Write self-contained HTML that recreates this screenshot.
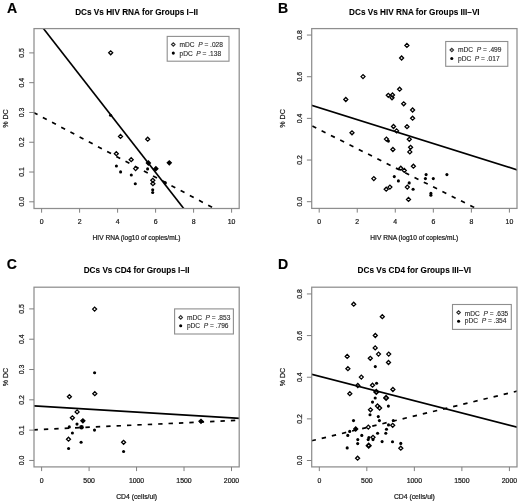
<!DOCTYPE html>
<html><head><meta charset="utf-8"><style>
html,body{margin:0;padding:0;background:#fff;width:520px;height:502px;overflow:hidden}
svg{display:block;will-change:transform}
text{font-family:"Liberation Sans", sans-serif;white-space:pre}
</style></head><body>
<svg width="520" height="502" viewBox="0 0 520 502">
<rect width="520" height="502" fill="#fff"/>
<text x="0" y="0" font-size="14.1" text-anchor="start" font-weight="bold" fill="#000" stroke="#000" stroke-width="0.15" transform="translate(6.9 12.8) scale(1 1.06)">A</text>
<text x="0" y="0" font-size="8.22" text-anchor="middle" font-weight="bold" fill="#000" stroke="#000" stroke-width="0.08" transform="translate(136.6 14.5) scale(1 1.04)">DCs Vs HIV RNA for Groups I–II</text>
<clipPath id="cA"><rect x="34.0" y="28.6" width="205.2" height="179.9"/></clipPath>
<g clip-path="url(#cA)">
<line x1="20" y1="-1.5494500000000073" x2="250" y2="293.54054999999994" stroke="#000" stroke-width="1.65"/>
<line x1="33.9" y1="112.6469" x2="250" y2="227.39600000000002" stroke="#000" stroke-width="1.7" stroke-dasharray="4.4 6.0" stroke-dashoffset="0.27"/>
<path d="M108.70 52.80L110.70 50.80L112.70 52.80L110.70 54.80Z" fill="none" stroke="#000" stroke-width="1.3"/>
<path d="M118.50 136.40L120.50 134.40L122.50 136.40L120.50 138.40Z" fill="none" stroke="#000" stroke-width="1.3"/>
<path d="M145.70 139.20L147.70 137.20L149.70 139.20L147.70 141.20Z" fill="none" stroke="#000" stroke-width="1.3"/>
<path d="M114.30 153.70L116.30 151.70L118.30 153.70L116.30 155.70Z" fill="none" stroke="#000" stroke-width="1.3"/>
<path d="M129.20 159.70L131.20 157.70L133.20 159.70L131.20 161.70Z" fill="none" stroke="#000" stroke-width="1.3"/>
<path d="M133.60 168.60L135.60 166.60L137.60 168.60L135.60 170.60Z" fill="none" stroke="#000" stroke-width="1.3"/>
<path d="M150.80 180.30L152.80 178.30L154.80 180.30L152.80 182.30Z" fill="none" stroke="#000" stroke-width="1.3"/>
<path d="M150.90 183.70L152.90 181.70L154.90 183.70L152.90 185.70Z" fill="none" stroke="#000" stroke-width="1.3"/>
<path d="M146.40 163.00L148.40 161.00L150.40 163.00L148.40 165.00Z" fill="none" stroke="#000" stroke-width="1.3"/>
<path d="M153.90 168.70L155.90 166.70L157.90 168.70L155.90 170.70Z" fill="none" stroke="#000" stroke-width="1.3"/>
<path d="M167.30 162.80L169.30 160.80L171.30 162.80L169.30 164.80Z" fill="none" stroke="#000" stroke-width="1.3"/>
<circle cx="110.6" cy="115.3" r="1.55" fill="#000"/>
<circle cx="116.4" cy="166.0" r="1.55" fill="#000"/>
<circle cx="120.6" cy="171.9" r="1.55" fill="#000"/>
<circle cx="131.3" cy="175.0" r="1.55" fill="#000"/>
<circle cx="135.3" cy="183.7" r="1.55" fill="#000"/>
<circle cx="147.6" cy="168.9" r="1.55" fill="#000"/>
<circle cx="152.7" cy="189.7" r="1.55" fill="#000"/>
<circle cx="152.7" cy="192.5" r="1.55" fill="#000"/>
<circle cx="165.3" cy="182.9" r="1.55" fill="#000"/>
<circle cx="148.4" cy="163.0" r="1.55" fill="#000"/>
<circle cx="155.9" cy="168.7" r="1.55" fill="#000"/>
<circle cx="169.3" cy="162.8" r="1.55" fill="#000"/>
</g>
<rect x="34.0" y="28.6" width="205.20" height="179.90" fill="none" stroke="#8e8e8e" stroke-width="1.25"/>
<line x1="41.6" y1="208.5" x2="41.6" y2="212.70" stroke="#808080" stroke-width="1.0"/>
<text x="41.6" y="224.0" font-size="6.9" text-anchor="middle" font-weight="normal" fill="#1a1a1a" stroke="#1a1a1a" stroke-width="0.22">0</text>
<line x1="79.6" y1="208.5" x2="79.6" y2="212.70" stroke="#808080" stroke-width="1.0"/>
<text x="79.6" y="224.0" font-size="6.9" text-anchor="middle" font-weight="normal" fill="#1a1a1a" stroke="#1a1a1a" stroke-width="0.22">2</text>
<line x1="117.6" y1="208.5" x2="117.6" y2="212.70" stroke="#808080" stroke-width="1.0"/>
<text x="117.6" y="224.0" font-size="6.9" text-anchor="middle" font-weight="normal" fill="#1a1a1a" stroke="#1a1a1a" stroke-width="0.22">4</text>
<line x1="155.6" y1="208.5" x2="155.6" y2="212.70" stroke="#808080" stroke-width="1.0"/>
<text x="155.6" y="224.0" font-size="6.9" text-anchor="middle" font-weight="normal" fill="#1a1a1a" stroke="#1a1a1a" stroke-width="0.22">6</text>
<line x1="193.6" y1="208.5" x2="193.6" y2="212.70" stroke="#808080" stroke-width="1.0"/>
<text x="193.6" y="224.0" font-size="6.9" text-anchor="middle" font-weight="normal" fill="#1a1a1a" stroke="#1a1a1a" stroke-width="0.22">8</text>
<line x1="231.6" y1="208.5" x2="231.6" y2="212.70" stroke="#808080" stroke-width="1.0"/>
<text x="231.6" y="224.0" font-size="6.9" text-anchor="middle" font-weight="normal" fill="#1a1a1a" stroke="#1a1a1a" stroke-width="0.22">10</text>
<line x1="29.20" y1="201.8" x2="34.0" y2="201.8" stroke="#808080" stroke-width="1.0"/>
<text x="23.9" y="201.8" font-size="6.9" text-anchor="middle" font-weight="normal" fill="#1a1a1a" stroke="#1a1a1a" stroke-width="0.22" transform="rotate(-90 23.9 201.8)">0.0</text>
<line x1="29.20" y1="172.02" x2="34.0" y2="172.02" stroke="#808080" stroke-width="1.0"/>
<text x="23.9" y="172.02" font-size="6.9" text-anchor="middle" font-weight="normal" fill="#1a1a1a" stroke="#1a1a1a" stroke-width="0.22" transform="rotate(-90 23.9 172.02)">0.1</text>
<line x1="29.20" y1="142.24" x2="34.0" y2="142.24" stroke="#808080" stroke-width="1.0"/>
<text x="23.9" y="142.24" font-size="6.9" text-anchor="middle" font-weight="normal" fill="#1a1a1a" stroke="#1a1a1a" stroke-width="0.22" transform="rotate(-90 23.9 142.24)">0.2</text>
<line x1="29.20" y1="112.46" x2="34.0" y2="112.46" stroke="#808080" stroke-width="1.0"/>
<text x="23.9" y="112.46" font-size="6.9" text-anchor="middle" font-weight="normal" fill="#1a1a1a" stroke="#1a1a1a" stroke-width="0.22" transform="rotate(-90 23.9 112.46)">0.3</text>
<line x1="29.20" y1="82.68" x2="34.0" y2="82.68" stroke="#808080" stroke-width="1.0"/>
<text x="23.9" y="82.68" font-size="6.9" text-anchor="middle" font-weight="normal" fill="#1a1a1a" stroke="#1a1a1a" stroke-width="0.22" transform="rotate(-90 23.9 82.68)">0.4</text>
<line x1="29.20" y1="52.9" x2="34.0" y2="52.9" stroke="#808080" stroke-width="1.0"/>
<text x="23.9" y="52.9" font-size="6.9" text-anchor="middle" font-weight="normal" fill="#1a1a1a" stroke="#1a1a1a" stroke-width="0.22" transform="rotate(-90 23.9 52.9)">0.5</text>
<text x="136.6" y="240.2" font-size="6.6" text-anchor="middle" font-weight="normal" fill="#1a1a1a" stroke="#1a1a1a" stroke-width="0.22">HIV RNA (log10 of copies/mL)</text>
<text x="7.6" y="118.55" font-size="7.1" text-anchor="middle" font-weight="normal" fill="#1a1a1a" stroke="#1a1a1a" stroke-width="0.22" transform="rotate(-90 7.6 118.55)">% DC</text>
<rect x="167.2" y="36.4" width="61.80000000000001" height="24.800000000000004" fill="#fff" stroke="#8e8e8e" stroke-width="1.1"/>
<path d="M171.55 44.50L173.30 42.75L175.05 44.50L173.30 46.25Z" fill="none" stroke="#333" stroke-width="1.15"/>
<circle cx="173.29999999999998" cy="53.099999999999994" r="1.55" fill="#000"/>
<text x="179.5" y="47.40" font-size="6.6" fill="#2a2a2a" stroke="#2a2a2a" stroke-width="0.12">mDC  <tspan font-style="italic">P</tspan> = .028</text>
<text x="179.5" y="55.50" font-size="6.6" fill="#2a2a2a" stroke="#2a2a2a" stroke-width="0.12">pDC  <tspan font-style="italic">P</tspan> = .138</text>
<text x="0" y="0" font-size="14.1" text-anchor="start" font-weight="bold" fill="#000" stroke="#000" stroke-width="0.15" transform="translate(278.0 12.7) scale(1 1.06)">B</text>
<text x="0" y="0" font-size="8.22" text-anchor="middle" font-weight="bold" fill="#000" stroke="#000" stroke-width="0.08" transform="translate(414.35 14.5) scale(1 1.04)">DCs Vs HIV RNA for Groups III–VI</text>
<clipPath id="cB"><rect x="311.7" y="28.6" width="205.3" height="179.8"/></clipPath>
<g clip-path="url(#cB)">
<line x1="300" y1="101.56432000000001" x2="530" y2="173.87632000000002" stroke="#000" stroke-width="1.65"/>
<line x1="311.7" y1="125.7485" x2="530" y2="235.5534" stroke="#000" stroke-width="1.7" stroke-dasharray="4.4 6.0" stroke-dashoffset="-0.69"/>
<path d="M404.90 45.40L406.90 43.40L408.90 45.40L406.90 47.40Z" fill="none" stroke="#000" stroke-width="1.3"/>
<path d="M399.60 58.00L401.60 56.00L403.60 58.00L401.60 60.00Z" fill="none" stroke="#000" stroke-width="1.3"/>
<path d="M361.00 76.60L363.00 74.60L365.00 76.60L363.00 78.60Z" fill="none" stroke="#000" stroke-width="1.3"/>
<path d="M397.60 89.20L399.60 87.20L401.60 89.20L399.60 91.20Z" fill="none" stroke="#000" stroke-width="1.3"/>
<path d="M343.80 99.50L345.80 97.50L347.80 99.50L345.80 101.50Z" fill="none" stroke="#000" stroke-width="1.3"/>
<path d="M386.30 95.30L388.30 93.30L390.30 95.30L388.30 97.30Z" fill="none" stroke="#000" stroke-width="1.3"/>
<path d="M390.50 95.00L392.50 93.00L394.50 95.00L392.50 97.00Z" fill="none" stroke="#000" stroke-width="1.3"/>
<path d="M390.00 97.80L392.00 95.80L394.00 97.80L392.00 99.80Z" fill="none" stroke="#000" stroke-width="1.3"/>
<path d="M401.70 103.80L403.70 101.80L405.70 103.80L403.70 105.80Z" fill="none" stroke="#000" stroke-width="1.3"/>
<path d="M410.60 110.00L412.60 108.00L414.60 110.00L412.60 112.00Z" fill="none" stroke="#000" stroke-width="1.3"/>
<path d="M410.60 118.20L412.60 116.20L414.60 118.20L412.60 120.20Z" fill="none" stroke="#000" stroke-width="1.3"/>
<path d="M391.50 126.50L393.50 124.50L395.50 126.50L393.50 128.50Z" fill="none" stroke="#000" stroke-width="1.3"/>
<path d="M394.60 130.90L396.60 128.90L398.60 130.90L396.60 132.90Z" fill="none" stroke="#000" stroke-width="1.3"/>
<path d="M405.00 126.70L407.00 124.70L409.00 126.70L407.00 128.70Z" fill="none" stroke="#000" stroke-width="1.3"/>
<path d="M350.00 132.80L352.00 130.80L354.00 132.80L352.00 134.80Z" fill="none" stroke="#000" stroke-width="1.3"/>
<path d="M384.40 139.10L386.40 137.10L388.40 139.10L386.40 141.10Z" fill="none" stroke="#000" stroke-width="1.3"/>
<path d="M407.30 139.30L409.30 137.30L411.30 139.30L409.30 141.30Z" fill="none" stroke="#000" stroke-width="1.3"/>
<path d="M390.90 149.50L392.90 147.50L394.90 149.50L392.90 151.50Z" fill="none" stroke="#000" stroke-width="1.3"/>
<path d="M408.60 147.30L410.60 145.30L412.60 147.30L410.60 149.30Z" fill="none" stroke="#000" stroke-width="1.3"/>
<path d="M407.80 151.90L409.80 149.90L411.80 151.90L409.80 153.90Z" fill="none" stroke="#000" stroke-width="1.3"/>
<path d="M411.40 166.20L413.40 164.20L415.40 166.20L413.40 168.20Z" fill="none" stroke="#000" stroke-width="1.3"/>
<path d="M398.80 168.20L400.80 166.20L402.80 168.20L400.80 170.20Z" fill="none" stroke="#000" stroke-width="1.3"/>
<path d="M402.30 170.40L404.30 168.40L406.30 170.40L404.30 172.40Z" fill="none" stroke="#000" stroke-width="1.3"/>
<path d="M371.80 178.60L373.80 176.60L375.80 178.60L373.80 180.60Z" fill="none" stroke="#000" stroke-width="1.3"/>
<path d="M405.30 187.10L407.30 185.10L409.30 187.10L407.30 189.10Z" fill="none" stroke="#000" stroke-width="1.3"/>
<path d="M384.20 189.20L386.20 187.20L388.20 189.20L386.20 191.20Z" fill="none" stroke="#000" stroke-width="1.3"/>
<path d="M387.90 187.10L389.90 185.10L391.90 187.10L389.90 189.10Z" fill="none" stroke="#000" stroke-width="1.3"/>
<path d="M406.50 199.40L408.50 197.40L410.50 199.40L408.50 201.40Z" fill="none" stroke="#000" stroke-width="1.3"/>
<circle cx="388.4" cy="141.1" r="1.55" fill="#000"/>
<circle cx="394.3" cy="176.6" r="1.55" fill="#000"/>
<circle cx="398.4" cy="180.9" r="1.55" fill="#000"/>
<circle cx="409.2" cy="182.9" r="1.55" fill="#000"/>
<circle cx="413.1" cy="189.2" r="1.55" fill="#000"/>
<circle cx="426.1" cy="174.6" r="1.55" fill="#000"/>
<circle cx="425.4" cy="178.6" r="1.55" fill="#000"/>
<circle cx="433.3" cy="178.6" r="1.55" fill="#000"/>
<circle cx="446.9" cy="174.6" r="1.55" fill="#000"/>
<circle cx="430.9" cy="193.4" r="1.55" fill="#000"/>
<circle cx="430.9" cy="195.3" r="1.55" fill="#000"/>
</g>
<rect x="311.7" y="28.6" width="205.30" height="179.80" fill="none" stroke="#8e8e8e" stroke-width="1.25"/>
<line x1="319.2" y1="208.4" x2="319.2" y2="212.60" stroke="#808080" stroke-width="1.0"/>
<text x="319.2" y="224.0" font-size="6.9" text-anchor="middle" font-weight="normal" fill="#1a1a1a" stroke="#1a1a1a" stroke-width="0.22">0</text>
<line x1="357.24" y1="208.4" x2="357.24" y2="212.60" stroke="#808080" stroke-width="1.0"/>
<text x="357.24" y="224.0" font-size="6.9" text-anchor="middle" font-weight="normal" fill="#1a1a1a" stroke="#1a1a1a" stroke-width="0.22">2</text>
<line x1="395.28" y1="208.4" x2="395.28" y2="212.60" stroke="#808080" stroke-width="1.0"/>
<text x="395.28" y="224.0" font-size="6.9" text-anchor="middle" font-weight="normal" fill="#1a1a1a" stroke="#1a1a1a" stroke-width="0.22">4</text>
<line x1="433.32" y1="208.4" x2="433.32" y2="212.60" stroke="#808080" stroke-width="1.0"/>
<text x="433.32" y="224.0" font-size="6.9" text-anchor="middle" font-weight="normal" fill="#1a1a1a" stroke="#1a1a1a" stroke-width="0.22">6</text>
<line x1="471.36" y1="208.4" x2="471.36" y2="212.60" stroke="#808080" stroke-width="1.0"/>
<text x="471.36" y="224.0" font-size="6.9" text-anchor="middle" font-weight="normal" fill="#1a1a1a" stroke="#1a1a1a" stroke-width="0.22">8</text>
<line x1="509.4" y1="208.4" x2="509.4" y2="212.60" stroke="#808080" stroke-width="1.0"/>
<text x="509.4" y="224.0" font-size="6.9" text-anchor="middle" font-weight="normal" fill="#1a1a1a" stroke="#1a1a1a" stroke-width="0.22">10</text>
<line x1="306.90" y1="201.7" x2="311.7" y2="201.7" stroke="#808080" stroke-width="1.0"/>
<text x="301.9" y="201.7" font-size="6.9" text-anchor="middle" font-weight="normal" fill="#1a1a1a" stroke="#1a1a1a" stroke-width="0.22" transform="rotate(-90 301.9 201.7)">0.0</text>
<line x1="306.90" y1="160.04" x2="311.7" y2="160.04" stroke="#808080" stroke-width="1.0"/>
<text x="301.9" y="160.04" font-size="6.9" text-anchor="middle" font-weight="normal" fill="#1a1a1a" stroke="#1a1a1a" stroke-width="0.22" transform="rotate(-90 301.9 160.04)">0.2</text>
<line x1="306.90" y1="118.38" x2="311.7" y2="118.38" stroke="#808080" stroke-width="1.0"/>
<text x="301.9" y="118.38" font-size="6.9" text-anchor="middle" font-weight="normal" fill="#1a1a1a" stroke="#1a1a1a" stroke-width="0.22" transform="rotate(-90 301.9 118.38)">0.4</text>
<line x1="306.90" y1="76.72" x2="311.7" y2="76.72" stroke="#808080" stroke-width="1.0"/>
<text x="301.9" y="76.72" font-size="6.9" text-anchor="middle" font-weight="normal" fill="#1a1a1a" stroke="#1a1a1a" stroke-width="0.22" transform="rotate(-90 301.9 76.72)">0.6</text>
<line x1="306.90" y1="35.06" x2="311.7" y2="35.06" stroke="#808080" stroke-width="1.0"/>
<text x="301.9" y="35.06" font-size="6.9" text-anchor="middle" font-weight="normal" fill="#1a1a1a" stroke="#1a1a1a" stroke-width="0.22" transform="rotate(-90 301.9 35.06)">0.8</text>
<text x="414.35" y="240.2" font-size="6.6" text-anchor="middle" font-weight="normal" fill="#1a1a1a" stroke="#1a1a1a" stroke-width="0.22">HIV RNA (log10 of copies/mL)</text>
<text x="285.0" y="118.5" font-size="7.1" text-anchor="middle" font-weight="normal" fill="#1a1a1a" stroke="#1a1a1a" stroke-width="0.22" transform="rotate(-90 285.0 118.5)">% DC</text>
<rect x="445.7" y="41.5" width="62.10000000000002" height="24.799999999999997" fill="#fff" stroke="#8e8e8e" stroke-width="1.1"/>
<path d="M450.05 50.00L451.80 48.25L453.55 50.00L451.80 51.75Z" fill="none" stroke="#333" stroke-width="1.15"/>
<circle cx="451.8" cy="58.5" r="1.55" fill="#000"/>
<text x="458.0" y="52.10" font-size="6.6" fill="#2a2a2a" stroke="#2a2a2a" stroke-width="0.12">mDC  <tspan font-style="italic">P</tspan> = .499</text>
<text x="458.0" y="60.50" font-size="6.6" fill="#2a2a2a" stroke="#2a2a2a" stroke-width="0.12">pDC  <tspan font-style="italic">P</tspan> = .017</text>
<text x="0" y="0" font-size="14.1" text-anchor="start" font-weight="bold" fill="#000" stroke="#000" stroke-width="0.15" transform="translate(6.8 269.3) scale(1 1.06)">C</text>
<text x="0" y="0" font-size="8.22" text-anchor="middle" font-weight="bold" fill="#000" stroke="#000" stroke-width="0.08" transform="translate(136.6 273.0) scale(1 1.04)">DCs Vs CD4 for Groups I–II</text>
<clipPath id="cC"><rect x="34.0" y="287.2" width="205.2" height="179.7"/></clipPath>
<g clip-path="url(#cC)">
<line x1="20" y1="404.94793" x2="250" y2="419.04693000000003" stroke="#000" stroke-width="1.65"/>
<line x1="33.9" y1="429.8" x2="250" y2="419.70813" stroke="#000" stroke-width="1.7" stroke-dasharray="4.4 6.0" stroke-dashoffset="0.43"/>
<path d="M92.60 309.10L94.60 307.10L96.60 309.10L94.60 311.10Z" fill="none" stroke="#000" stroke-width="1.3"/>
<path d="M92.80 393.70L94.80 391.70L96.80 393.70L94.80 395.70Z" fill="none" stroke="#000" stroke-width="1.3"/>
<path d="M67.40 396.70L69.40 394.70L71.40 396.70L69.40 398.70Z" fill="none" stroke="#000" stroke-width="1.3"/>
<path d="M75.10 411.90L77.10 409.90L79.10 411.90L77.10 413.90Z" fill="none" stroke="#000" stroke-width="1.3"/>
<path d="M70.40 417.80L72.40 415.80L74.40 417.80L72.40 419.80Z" fill="none" stroke="#000" stroke-width="1.3"/>
<path d="M80.90 420.80L82.90 418.80L84.90 420.80L82.90 422.80Z" fill="none" stroke="#000" stroke-width="1.3"/>
<path d="M66.50 439.20L68.50 437.20L70.50 439.20L68.50 441.20Z" fill="none" stroke="#000" stroke-width="1.3"/>
<path d="M121.60 442.30L123.60 440.30L125.60 442.30L123.60 444.30Z" fill="none" stroke="#000" stroke-width="1.3"/>
<path d="M199.00 421.30L201.00 419.30L203.00 421.30L201.00 423.30Z" fill="none" stroke="#000" stroke-width="1.3"/>
<circle cx="94.6" cy="372.8" r="1.55" fill="#000"/>
<circle cx="77.0" cy="424.1" r="1.55" fill="#000"/>
<circle cx="69.3" cy="426.9" r="1.55" fill="#000"/>
<circle cx="72.4" cy="433.0" r="1.55" fill="#000"/>
<circle cx="94.5" cy="430.1" r="1.55" fill="#000"/>
<circle cx="81.1" cy="442.2" r="1.55" fill="#000"/>
<circle cx="68.6" cy="448.5" r="1.55" fill="#000"/>
<circle cx="123.6" cy="451.5" r="1.55" fill="#000"/>
<circle cx="82.9" cy="420.8" r="1.55" fill="#000"/>
<circle cx="201.0" cy="421.3" r="1.55" fill="#000"/>
<circle cx="81.5" cy="427.3" r="2.3" fill="#000"/>
</g>
<rect x="34.0" y="287.2" width="205.20" height="179.70" fill="none" stroke="#8e8e8e" stroke-width="1.25"/>
<line x1="41.6" y1="466.9" x2="41.6" y2="471.10" stroke="#808080" stroke-width="1.0"/>
<text x="41.6" y="482.6" font-size="6.9" text-anchor="middle" font-weight="normal" fill="#1a1a1a" stroke="#1a1a1a" stroke-width="0.22">0</text>
<line x1="89.08" y1="466.9" x2="89.08" y2="471.10" stroke="#808080" stroke-width="1.0"/>
<text x="89.08" y="482.6" font-size="6.9" text-anchor="middle" font-weight="normal" fill="#1a1a1a" stroke="#1a1a1a" stroke-width="0.22">500</text>
<line x1="136.55" y1="466.9" x2="136.55" y2="471.10" stroke="#808080" stroke-width="1.0"/>
<text x="136.55" y="482.6" font-size="6.9" text-anchor="middle" font-weight="normal" fill="#1a1a1a" stroke="#1a1a1a" stroke-width="0.22">1000</text>
<line x1="184.03" y1="466.9" x2="184.03" y2="471.10" stroke="#808080" stroke-width="1.0"/>
<text x="184.03" y="482.6" font-size="6.9" text-anchor="middle" font-weight="normal" fill="#1a1a1a" stroke="#1a1a1a" stroke-width="0.22">1500</text>
<line x1="231.5" y1="466.9" x2="231.5" y2="471.10" stroke="#808080" stroke-width="1.0"/>
<text x="231.5" y="482.6" font-size="6.9" text-anchor="middle" font-weight="normal" fill="#1a1a1a" stroke="#1a1a1a" stroke-width="0.22">2000</text>
<line x1="29.20" y1="460.45" x2="34.0" y2="460.45" stroke="#808080" stroke-width="1.0"/>
<text x="23.9" y="460.45" font-size="6.9" text-anchor="middle" font-weight="normal" fill="#1a1a1a" stroke="#1a1a1a" stroke-width="0.22" transform="rotate(-90 23.9 460.45)">0.0</text>
<line x1="29.20" y1="430.14" x2="34.0" y2="430.14" stroke="#808080" stroke-width="1.0"/>
<text x="23.9" y="430.14" font-size="6.9" text-anchor="middle" font-weight="normal" fill="#1a1a1a" stroke="#1a1a1a" stroke-width="0.22" transform="rotate(-90 23.9 430.14)">0.1</text>
<line x1="29.20" y1="399.83" x2="34.0" y2="399.83" stroke="#808080" stroke-width="1.0"/>
<text x="23.9" y="399.83" font-size="6.9" text-anchor="middle" font-weight="normal" fill="#1a1a1a" stroke="#1a1a1a" stroke-width="0.22" transform="rotate(-90 23.9 399.83)">0.2</text>
<line x1="29.20" y1="369.52" x2="34.0" y2="369.52" stroke="#808080" stroke-width="1.0"/>
<text x="23.9" y="369.52" font-size="6.9" text-anchor="middle" font-weight="normal" fill="#1a1a1a" stroke="#1a1a1a" stroke-width="0.22" transform="rotate(-90 23.9 369.52)">0.3</text>
<line x1="29.20" y1="339.21" x2="34.0" y2="339.21" stroke="#808080" stroke-width="1.0"/>
<text x="23.9" y="339.21" font-size="6.9" text-anchor="middle" font-weight="normal" fill="#1a1a1a" stroke="#1a1a1a" stroke-width="0.22" transform="rotate(-90 23.9 339.21)">0.4</text>
<line x1="29.20" y1="308.9" x2="34.0" y2="308.9" stroke="#808080" stroke-width="1.0"/>
<text x="23.9" y="308.9" font-size="6.9" text-anchor="middle" font-weight="normal" fill="#1a1a1a" stroke="#1a1a1a" stroke-width="0.22" transform="rotate(-90 23.9 308.9)">0.5</text>
<text x="136.6" y="498.9" font-size="6.8" text-anchor="middle" font-weight="normal" fill="#1a1a1a" stroke="#1a1a1a" stroke-width="0.22">CD4 (cells/ul)</text>
<text x="7.6" y="377.04999999999995" font-size="7.1" text-anchor="middle" font-weight="normal" fill="#1a1a1a" stroke="#1a1a1a" stroke-width="0.22" transform="rotate(-90 7.6 377.04999999999995)">% DC</text>
<rect x="174.6" y="308.9" width="58.80000000000001" height="25.100000000000023" fill="#fff" stroke="#8e8e8e" stroke-width="1.1"/>
<path d="M178.95 317.40L180.70 315.65L182.45 317.40L180.70 319.15Z" fill="none" stroke="#333" stroke-width="1.15"/>
<circle cx="180.7" cy="325.7" r="1.55" fill="#000"/>
<text x="186.9" y="319.80" font-size="6.6" fill="#2a2a2a" stroke="#2a2a2a" stroke-width="0.12">mDC  <tspan font-style="italic">P</tspan> = .853</text>
<text x="186.9" y="327.70" font-size="6.6" fill="#2a2a2a" stroke="#2a2a2a" stroke-width="0.12">pDC  <tspan font-style="italic">P</tspan> = .796</text>
<text x="0" y="0" font-size="14.1" text-anchor="start" font-weight="bold" fill="#000" stroke="#000" stroke-width="0.15" transform="translate(277.9 269.1) scale(1 1.06)">D</text>
<text x="0" y="0" font-size="8.22" text-anchor="middle" font-weight="bold" fill="#000" stroke="#000" stroke-width="0.08" transform="translate(414.35 273.0) scale(1 1.04)">DCs Vs CD4 for Groups III–VI</text>
<clipPath id="cD"><rect x="311.7" y="287.2" width="205.3" height="179.7"/></clipPath>
<g clip-path="url(#cD)">
<line x1="300" y1="371.30879999999996" x2="530" y2="430.55679999999995" stroke="#000" stroke-width="1.65"/>
<line x1="311.6" y1="440.79659999999996" x2="530" y2="388.053" stroke="#000" stroke-width="1.7" stroke-dasharray="4.4 6.0" stroke-dashoffset="0.0"/>
<path d="M351.70 304.20L353.70 302.20L355.70 304.20L353.70 306.20Z" fill="none" stroke="#000" stroke-width="1.3"/>
<path d="M380.30 316.70L382.30 314.70L384.30 316.70L382.30 318.70Z" fill="none" stroke="#000" stroke-width="1.3"/>
<path d="M373.30 335.50L375.30 333.50L377.30 335.50L375.30 337.50Z" fill="none" stroke="#000" stroke-width="1.3"/>
<path d="M373.20 347.90L375.20 345.90L377.20 347.90L375.20 349.90Z" fill="none" stroke="#000" stroke-width="1.3"/>
<path d="M376.50 354.10L378.50 352.10L380.50 354.10L378.50 356.10Z" fill="none" stroke="#000" stroke-width="1.3"/>
<path d="M386.70 354.10L388.70 352.10L390.70 354.10L388.70 356.10Z" fill="none" stroke="#000" stroke-width="1.3"/>
<path d="M345.20 356.40L347.20 354.40L349.20 356.40L347.20 358.40Z" fill="none" stroke="#000" stroke-width="1.3"/>
<path d="M368.30 358.30L370.30 356.30L372.30 358.30L370.30 360.30Z" fill="none" stroke="#000" stroke-width="1.3"/>
<path d="M386.50 362.50L388.50 360.50L390.50 362.50L388.50 364.50Z" fill="none" stroke="#000" stroke-width="1.3"/>
<path d="M345.90 368.70L347.90 366.70L349.90 368.70L347.90 370.70Z" fill="none" stroke="#000" stroke-width="1.3"/>
<path d="M359.30 377.10L361.30 375.10L363.30 377.10L361.30 379.10Z" fill="none" stroke="#000" stroke-width="1.3"/>
<path d="M355.80 385.50L357.80 383.50L359.80 385.50L357.80 387.50Z" fill="none" stroke="#000" stroke-width="1.3"/>
<path d="M370.50 385.20L372.50 383.20L374.50 385.20L372.50 387.20Z" fill="none" stroke="#000" stroke-width="1.3"/>
<path d="M390.90 389.50L392.90 387.50L394.90 389.50L392.90 391.50Z" fill="none" stroke="#000" stroke-width="1.3"/>
<path d="M347.80 393.70L349.80 391.70L351.80 393.70L349.80 395.70Z" fill="none" stroke="#000" stroke-width="1.3"/>
<path d="M375.50 406.00L377.50 404.00L379.50 406.00L377.50 408.00Z" fill="none" stroke="#000" stroke-width="1.3"/>
<path d="M377.60 408.00L379.60 406.00L381.60 408.00L379.60 410.00Z" fill="none" stroke="#000" stroke-width="1.3"/>
<path d="M368.50 409.80L370.50 407.80L372.50 409.80L370.50 411.80Z" fill="none" stroke="#000" stroke-width="1.3"/>
<path d="M366.30 427.10L368.30 425.10L370.30 427.10L368.30 429.10Z" fill="none" stroke="#000" stroke-width="1.3"/>
<path d="M390.70 425.30L392.70 423.30L394.70 425.30L392.70 427.30Z" fill="none" stroke="#000" stroke-width="1.3"/>
<path d="M353.70 429.00L355.70 427.00L357.70 429.00L355.70 431.00Z" fill="none" stroke="#000" stroke-width="1.3"/>
<path d="M371.00 437.30L373.00 435.30L375.00 437.30L373.00 439.30Z" fill="none" stroke="#000" stroke-width="1.3"/>
<path d="M355.60 458.20L357.60 456.20L359.60 458.20L357.60 460.20Z" fill="none" stroke="#000" stroke-width="1.3"/>
<path d="M398.80 448.20L400.80 446.20L402.80 448.20L400.80 450.20Z" fill="none" stroke="#000" stroke-width="1.3"/>
<circle cx="375.3" cy="366.6" r="1.55" fill="#000"/>
<circle cx="376.6" cy="383.3" r="1.55" fill="#000"/>
<circle cx="375.2" cy="398.0" r="1.55" fill="#000"/>
<circle cx="372.5" cy="402.1" r="1.55" fill="#000"/>
<circle cx="388.4" cy="406.1" r="1.55" fill="#000"/>
<circle cx="370.0" cy="414.7" r="1.55" fill="#000"/>
<circle cx="378.3" cy="416.6" r="1.55" fill="#000"/>
<circle cx="353.5" cy="420.6" r="1.55" fill="#000"/>
<circle cx="379.4" cy="420.6" r="1.55" fill="#000"/>
<circle cx="393.3" cy="420.5" r="1.55" fill="#000"/>
<circle cx="388.5" cy="424.9" r="1.55" fill="#000"/>
<circle cx="355.7" cy="429.0" r="1.55" fill="#000"/>
<circle cx="349.7" cy="431.4" r="1.55" fill="#000"/>
<circle cx="347.8" cy="435.4" r="1.55" fill="#000"/>
<circle cx="386.5" cy="429.3" r="1.55" fill="#000"/>
<circle cx="377.6" cy="433.3" r="1.55" fill="#000"/>
<circle cx="385.8" cy="433.3" r="1.55" fill="#000"/>
<circle cx="361.8" cy="435.4" r="1.55" fill="#000"/>
<circle cx="357.8" cy="439.6" r="1.55" fill="#000"/>
<circle cx="357.7" cy="443.6" r="1.55" fill="#000"/>
<circle cx="368.9" cy="437.5" r="1.55" fill="#000"/>
<circle cx="368.2" cy="439.6" r="1.55" fill="#000"/>
<circle cx="373.0" cy="439.6" r="1.55" fill="#000"/>
<circle cx="382.1" cy="441.6" r="1.55" fill="#000"/>
<circle cx="392.5" cy="441.8" r="1.55" fill="#000"/>
<circle cx="347.2" cy="447.9" r="1.55" fill="#000"/>
<circle cx="400.8" cy="443.4" r="1.55" fill="#000"/>
<path d="M384.00 397.90L386.10 395.80L388.20 397.90L386.10 400.00Z" fill="none" stroke="#000" stroke-width="1.75"/>
<path d="M374.20 391.90L376.30 389.80L378.40 391.90L376.30 394.00Z" fill="none" stroke="#000" stroke-width="1.75"/>
<path d="M366.60 445.70L368.70 443.60L370.80 445.70L368.70 447.80Z" fill="none" stroke="#000" stroke-width="1.75"/>
</g>
<rect x="311.7" y="287.2" width="205.30" height="179.70" fill="none" stroke="#8e8e8e" stroke-width="1.25"/>
<line x1="319.3" y1="466.9" x2="319.3" y2="471.10" stroke="#808080" stroke-width="1.0"/>
<text x="319.3" y="482.6" font-size="6.9" text-anchor="middle" font-weight="normal" fill="#1a1a1a" stroke="#1a1a1a" stroke-width="0.22">0</text>
<line x1="366.82" y1="466.9" x2="366.82" y2="471.10" stroke="#808080" stroke-width="1.0"/>
<text x="366.82" y="482.6" font-size="6.9" text-anchor="middle" font-weight="normal" fill="#1a1a1a" stroke="#1a1a1a" stroke-width="0.22">500</text>
<line x1="414.35" y1="466.9" x2="414.35" y2="471.10" stroke="#808080" stroke-width="1.0"/>
<text x="414.35" y="482.6" font-size="6.9" text-anchor="middle" font-weight="normal" fill="#1a1a1a" stroke="#1a1a1a" stroke-width="0.22">1000</text>
<line x1="461.88" y1="466.9" x2="461.88" y2="471.10" stroke="#808080" stroke-width="1.0"/>
<text x="461.88" y="482.6" font-size="6.9" text-anchor="middle" font-weight="normal" fill="#1a1a1a" stroke="#1a1a1a" stroke-width="0.22">1500</text>
<line x1="509.4" y1="466.9" x2="509.4" y2="471.10" stroke="#808080" stroke-width="1.0"/>
<text x="509.4" y="482.6" font-size="6.9" text-anchor="middle" font-weight="normal" fill="#1a1a1a" stroke="#1a1a1a" stroke-width="0.22">2000</text>
<line x1="306.90" y1="460.5" x2="311.7" y2="460.5" stroke="#808080" stroke-width="1.0"/>
<text x="301.9" y="460.5" font-size="6.9" text-anchor="middle" font-weight="normal" fill="#1a1a1a" stroke="#1a1a1a" stroke-width="0.22" transform="rotate(-90 301.9 460.5)">0.0</text>
<line x1="306.90" y1="418.86" x2="311.7" y2="418.86" stroke="#808080" stroke-width="1.0"/>
<text x="301.9" y="418.86" font-size="6.9" text-anchor="middle" font-weight="normal" fill="#1a1a1a" stroke="#1a1a1a" stroke-width="0.22" transform="rotate(-90 301.9 418.86)">0.2</text>
<line x1="306.90" y1="377.22" x2="311.7" y2="377.22" stroke="#808080" stroke-width="1.0"/>
<text x="301.9" y="377.22" font-size="6.9" text-anchor="middle" font-weight="normal" fill="#1a1a1a" stroke="#1a1a1a" stroke-width="0.22" transform="rotate(-90 301.9 377.22)">0.4</text>
<line x1="306.90" y1="335.58" x2="311.7" y2="335.58" stroke="#808080" stroke-width="1.0"/>
<text x="301.9" y="335.58" font-size="6.9" text-anchor="middle" font-weight="normal" fill="#1a1a1a" stroke="#1a1a1a" stroke-width="0.22" transform="rotate(-90 301.9 335.58)">0.6</text>
<line x1="306.90" y1="293.94" x2="311.7" y2="293.94" stroke="#808080" stroke-width="1.0"/>
<text x="301.9" y="293.94" font-size="6.9" text-anchor="middle" font-weight="normal" fill="#1a1a1a" stroke="#1a1a1a" stroke-width="0.22" transform="rotate(-90 301.9 293.94)">0.8</text>
<text x="414.35" y="498.9" font-size="6.8" text-anchor="middle" font-weight="normal" fill="#1a1a1a" stroke="#1a1a1a" stroke-width="0.22">CD4 (cells/ul)</text>
<text x="285.0" y="377.04999999999995" font-size="7.1" text-anchor="middle" font-weight="normal" fill="#1a1a1a" stroke="#1a1a1a" stroke-width="0.22" transform="rotate(-90 285.0 377.04999999999995)">% DC</text>
<rect x="452.5" y="304.5" width="58.80000000000001" height="24.899999999999977" fill="#fff" stroke="#8e8e8e" stroke-width="1.1"/>
<path d="M456.85 312.50L458.60 310.75L460.35 312.50L458.60 314.25Z" fill="none" stroke="#333" stroke-width="1.15"/>
<circle cx="458.6" cy="321.2" r="1.55" fill="#000"/>
<text x="464.8" y="315.60" font-size="6.6" fill="#2a2a2a" stroke="#2a2a2a" stroke-width="0.12">mDC  <tspan font-style="italic">P</tspan> = .635</text>
<text x="464.8" y="322.90" font-size="6.6" fill="#2a2a2a" stroke="#2a2a2a" stroke-width="0.12">pDC  <tspan font-style="italic">P</tspan> = .354</text>
</svg>
</body></html>
